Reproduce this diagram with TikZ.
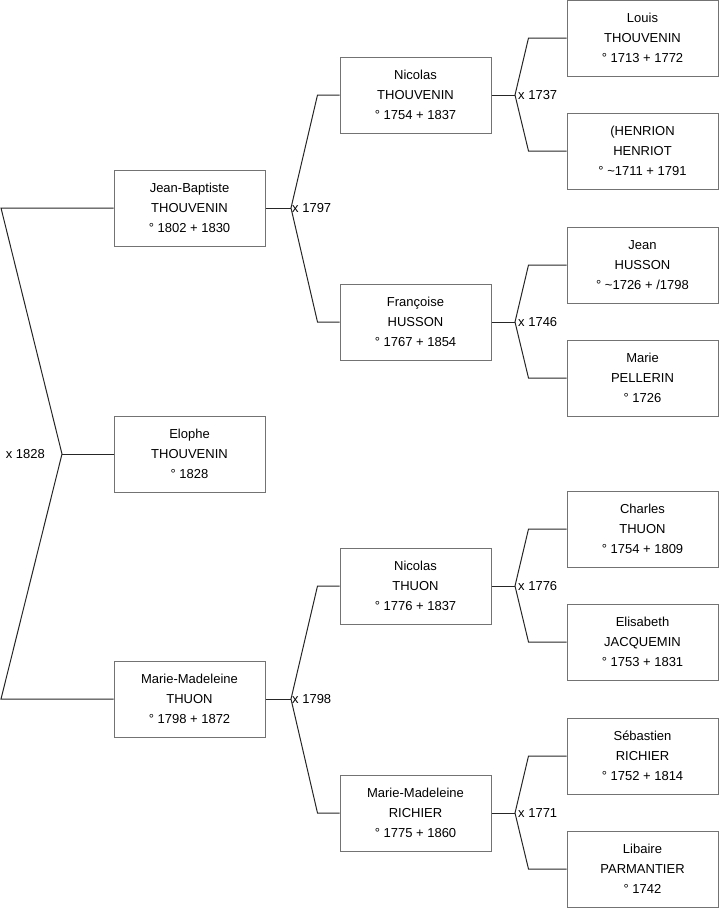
\documentclass[tikz,border=0pt]{standalone}
\usepackage{fontspec}
\setmainfont{Liberation Sans}
\usepackage{tikz}

\tikzset{
    person/.style={draw=black!55, line width=1pt, minimum width=151pt, minimum height=76pt,
        align=center, font=\fontsize{13}{20}\selectfont, inner sep=0pt},
    link/.style={black!85, line width=1pt},
    wed/.style={font=\fontsize{13}{15}\selectfont, inner sep=1pt}
}

\begin{document}
\begin{tikzpicture}[x=1pt, y=-1pt]
    \useasboundingbox (0,0) rectangle (719,908);

    % generation 1
    \node[person] (elophe) at (189.5,454) {Elophe\\THOUVENIN\\° 1828};
    % generation 2
    \node[person] (jb) at (189.5,208) {Jean-Baptiste\\THOUVENIN\\° 1802 + 1830};
    \node[person] (mm) at (189.5,699) {Marie-Madeleine\\THUON\\° 1798 + 1872};
    % generation 3
    \node[person] (nicTh) at (415.5,95) {Nicolas\\THOUVENIN\\° 1754 + 1837};
    \node[person] (francoise) at (415.5,322) {Françoise\\HUSSON\\° 1767 + 1854};
    \node[person] (nicThuon) at (415.5,586) {Nicolas\\THUON\\° 1776 + 1837};
    \node[person] (mmRichier) at (415.5,813) {Marie-Madeleine\\RICHIER\\° 1775 + 1860};
    % generation 4
    \node[person] (louis) at (642.5,38) {Louis\\THOUVENIN\\° 1713 + 1772};
    \node[person] (henrion) at (642.5,151) {(HENRION\\HENRIOT\\° \textasciitilde1711 + 1791};
    \node[person] (jean) at (642.5,265) {Jean\\HUSSON\\° \textasciitilde1726 + /1798};
    \node[person] (marie) at (642.5,378) {Marie\\PELLERIN\\° 1726};
    \node[person] (charles) at (642.5,529) {Charles\\THUON\\° 1754 + 1809};
    \node[person] (elisabeth) at (642.5,642) {Elisabeth\\JACQUEMIN\\° 1753 + 1831};
    \node[person] (sebastien) at (642.5,756) {Sébastien\\RICHIER\\° 1752 + 1814};
    \node[person] (libaire) at (642.5,869) {Libaire\\PARMANTIER\\° 1742};

    % marriages
    \coordinate (j1828) at (62,454);
    \coordinate (j1828top) at (1,208);
    \coordinate (j1828bot) at (1,699);
    \draw[link] (jb.west) -- (j1828top) -- (j1828) -- (j1828bot) -- (mm.west);
    \draw[link] (j1828) -- (elophe.west);
    \node[wed, left=16pt] (w1828) at (j1828) {x 1828};

    \coordinate (j1797) at (291,208);
    \draw[link] (jb.east) -- (j1797);
    \draw[link] (nicTh.west) -- ++(-22,0) -- (j1797) -- ([xshift=-22pt]francoise.west) -- (francoise.west);
    \node[wed, right] (w1797) at (j1797) {x 1797};

    \coordinate (j1798) at (291,699);
    \draw[link] (mm.east) -- (j1798);
    \draw[link] (nicThuon.west) -- ++(-22,0) -- (j1798) -- ([xshift=-22pt]mmRichier.west) -- (mmRichier.west);
    \node[wed, right] (w1798) at (j1798) {x 1798};

    \coordinate (j1737) at (515,95);
    \draw[link] (nicTh.east) -- (j1737);
    \draw[link] (louis.west) -- ++(-38,0) -- (j1737) -- ([xshift=-38pt]henrion.west) -- (henrion.west);
    \node[wed, right=2pt] (w1737) at (j1737) {x 1737};

    \coordinate (j1746) at (515,322);
    \draw[link] (francoise.east) -- (j1746);
    \draw[link] (jean.west) -- ++(-38,0) -- (j1746) -- ([xshift=-38pt]marie.west) -- (marie.west);
    \node[wed, right=2pt] (w1746) at (j1746) {x 1746};

    \coordinate (j1776) at (515,586);
    \draw[link] (nicThuon.east) -- (j1776);
    \draw[link] (charles.west) -- ++(-38,0) -- (j1776) -- ([xshift=-38pt]elisabeth.west) -- (elisabeth.west);
    \node[wed, right=2pt] (w1776) at (j1776) {x 1776};

    \coordinate (j1771) at (515,813);
    \draw[link] (mmRichier.east) -- (j1771);
    \draw[link] (sebastien.west) -- ++(-38,0) -- (j1771) -- ([xshift=-38pt]libaire.west) -- (libaire.west);
    \node[wed, right=2pt] (w1771) at (j1771) {x 1771};
\end{tikzpicture}
\end{document}
